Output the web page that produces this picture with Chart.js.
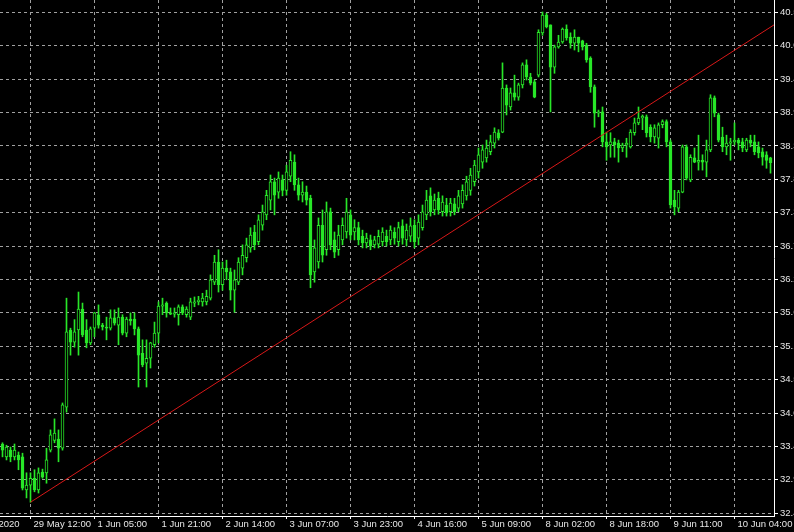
<!DOCTYPE html>
<html>
<head>
<meta charset="utf-8">
<script src="https://cdn.jsdelivr.net/npm/chart.js@4.4.0/dist/chart.umd.min.js"></script>
<style>
  html, body { margin: 0; padding: 0; background: #000; }
  canvas { display: block; }
</style>
</head>
<body>
<canvas id="chart" width="794" height="532"></canvas>
<script>
// hourly candles (one per bar, left to right)
var barOpen = [
  33.53, 33.32, 33.43, 33.32, 33.35, 33.32, 32.78, 32.86, 32.97, 32.78,
  33.07, 33.06, 33.43, 33.59, 33.61, 33.46, 34.13, 35.39, 35.19, 35.39,
  35.73, 35.39, 35.18, 35.42, 35.64, 35.47, 35.44, 35.42, 35.59, 35.47,
  35.60, 35.34, 35.57, 35.57, 35.41, 35.01, 34.85, 34.93, 35.15, 35.34,
  35.78, 35.83, 35.67, 35.65, 35.64, 35.77, 35.64, 35.60, 35.83, 35.85,
  35.85, 35.85, 35.91, 36.17, 36.50, 36.13, 36.40, 36.34, 36.04, 36.17,
  36.40, 36.57, 36.73, 36.99, 36.83, 37.10, 37.27, 37.51, 37.81, 37.64,
  37.84, 37.67, 37.90, 38.13, 37.76, 37.59, 37.64, 37.54, 36.34, 36.50,
  37.10, 36.70, 37.32, 36.86, 36.70, 36.86, 36.99, 37.27, 36.99, 37.06,
  36.92, 36.81, 36.86, 36.78, 36.79, 36.83, 36.92, 36.86, 36.99, 36.83,
  37.09, 36.86, 36.92, 37.10, 36.89, 37.06, 37.27, 37.58, 37.35, 37.54,
  37.32, 37.43, 37.32, 37.45, 37.38, 37.45, 37.58, 37.67, 37.81, 37.97,
  38.13, 38.20, 38.30, 38.44, 38.61, 38.62, 39.34, 39.03, 39.26, 39.19,
  39.39, 39.72, 39.52, 39.44, 39.55, 40.24, 40.53, 40.37, 39.68, 40.01,
  40.09, 40.30, 40.17, 40.07, 40.17, 40.11, 40.04, 39.83, 39.36, 38.93,
  38.95, 38.46, 38.41, 38.46, 38.44, 38.36, 38.41, 38.38, 38.61, 38.77,
  38.85, 38.87, 38.70, 38.54, 38.52, 38.74, 38.79, 38.46, 37.51, 37.38,
  37.64, 38.38, 37.84, 38.20, 38.13, 38.16, 38.13, 38.33, 39.18, 38.90,
  38.54, 38.38, 38.44, 38.46, 38.49, 38.46, 38.33, 38.49, 38.46, 38.38,
  38.30, 38.25, 38.20
];
var barHigh = [
  33.55, 33.51, 33.48, 33.53, 33.40, 33.38, 33.06, 33.06, 33.11, 33.14,
  33.12, 33.46, 33.76, 33.94, 33.76, 34.20, 35.91, 35.42, 35.56, 36.01,
  35.83, 35.56, 35.44, 35.68, 35.80, 35.50, 35.60, 35.72, 35.72, 35.75,
  35.64, 35.60, 35.67, 35.67, 35.44, 35.23, 35.23, 35.19, 35.52, 35.85,
  35.91, 35.85, 35.75, 35.75, 35.80, 35.80, 35.77, 35.91, 35.93, 35.94,
  35.99, 36.04, 36.29, 36.61, 36.70, 36.50, 36.53, 36.40, 36.37, 36.57,
  36.78, 36.89, 37.06, 37.10, 37.27, 37.43, 37.67, 37.92, 37.87, 37.97,
  37.92, 38.08, 38.30, 38.25, 37.87, 37.81, 37.74, 37.59, 36.86, 37.22,
  37.35, 37.48, 37.38, 36.99, 37.10, 37.22, 37.54, 37.35, 37.19, 37.15,
  37.02, 36.97, 36.94, 36.92, 37.02, 37.06, 37.02, 37.09, 37.06, 37.15,
  37.19, 37.12, 37.22, 37.19, 37.27, 37.43, 37.67, 37.71, 37.61, 37.64,
  37.58, 37.54, 37.54, 37.54, 37.67, 37.76, 37.90, 38.03, 38.16, 38.36,
  38.41, 38.49, 38.57, 38.69, 38.66, 39.75, 39.39, 39.34, 39.55, 39.42,
  39.75, 39.80, 39.58, 39.47, 40.29, 40.58, 40.56, 40.37, 40.04, 40.20,
  40.32, 40.37, 40.24, 40.29, 40.17, 40.12, 40.07, 39.85, 39.39, 38.98,
  39.03, 38.62, 38.61, 38.52, 38.49, 38.44, 38.52, 38.66, 38.85, 39.03,
  38.90, 38.90, 38.74, 38.74, 38.77, 38.82, 38.82, 38.49, 37.67, 37.67,
  38.41, 38.41, 38.25, 38.36, 38.57, 38.25, 38.49, 39.23, 39.21, 38.93,
  38.70, 38.57, 38.52, 38.77, 38.52, 38.52, 38.52, 38.57, 38.57, 38.46,
  38.36, 38.30, 38.21
];
var barLow = [
  33.32, 33.27, 33.24, 33.27, 33.11, 32.78, 32.65, 32.58, 32.75, 32.73,
  32.97, 32.89, 33.40, 33.55, 33.24, 33.43, 34.05, 34.98, 35.11, 34.98,
  35.28, 35.10, 35.15, 35.28, 35.42, 35.39, 35.23, 35.39, 35.47, 35.15,
  35.31, 35.28, 35.47, 35.31, 34.46, 34.79, 34.46, 34.77, 35.11, 35.18,
  35.64, 35.60, 35.64, 35.60, 35.47, 35.64, 35.60, 35.56, 35.77, 35.80,
  35.78, 35.80, 35.88, 36.13, 36.01, 36.04, 36.21, 35.88, 35.68, 36.13,
  36.29, 36.50, 36.66, 36.70, 36.78, 37.02, 37.19, 37.35, 37.27, 37.54,
  37.58, 37.59, 37.81, 37.67, 37.51, 37.48, 37.43, 36.08, 36.17, 36.40,
  36.50, 36.61, 36.70, 36.57, 36.61, 36.78, 36.89, 36.86, 36.86, 36.78,
  36.73, 36.73, 36.70, 36.73, 36.73, 36.76, 36.76, 36.78, 36.79, 36.76,
  36.79, 36.76, 36.83, 36.73, 36.78, 37.02, 37.19, 37.25, 37.27, 37.28,
  37.25, 37.25, 37.25, 37.27, 37.32, 37.38, 37.51, 37.59, 37.74, 37.87,
  38.03, 38.13, 38.25, 38.36, 38.49, 38.61, 38.90, 38.98, 39.14, 39.14,
  39.34, 39.47, 39.39, 39.18, 39.52, 40.20, 40.32, 38.95, 39.58, 39.99,
  40.07, 40.12, 39.99, 39.96, 39.93, 39.96, 39.76, 39.27, 38.70, 38.87,
  38.38, 38.16, 38.21, 38.21, 38.13, 38.30, 38.21, 38.36, 38.57, 38.74,
  38.66, 38.54, 38.46, 38.44, 38.36, 38.69, 38.38, 37.38, 37.27, 37.32,
  37.63, 37.84, 37.81, 38.12, 38.00, 38.00, 37.89, 38.30, 38.87, 38.46,
  38.30, 38.25, 38.16, 38.41, 38.33, 38.30, 38.30, 38.38, 38.25, 38.20,
  38.08, 38.03, 37.95
];
var barClose = [
  33.43, 33.48, 33.32, 33.43, 33.27, 32.81, 32.86, 32.97, 32.78, 33.06,
  32.99, 33.27, 33.68, 33.71, 33.46, 34.17, 35.36, 35.19, 35.36, 35.73,
  35.31, 35.18, 35.41, 35.67, 35.47, 35.44, 35.42, 35.59, 35.50, 35.60,
  35.34, 35.57, 35.54, 35.41, 34.98, 34.82, 34.93, 35.18, 35.34, 35.78,
  35.80, 35.67, 35.65, 35.67, 35.77, 35.67, 35.73, 35.85, 35.85, 35.88,
  35.91, 35.94, 36.21, 36.50, 36.13, 36.40, 36.34, 36.04, 36.21, 36.50,
  36.61, 36.78, 36.94, 36.78, 37.19, 37.32, 37.59, 37.81, 37.59, 37.87,
  37.67, 37.97, 38.16, 37.76, 37.59, 37.64, 37.51, 36.29, 36.73, 37.10,
  36.61, 37.32, 36.78, 36.66, 36.94, 37.10, 37.32, 36.94, 37.06, 36.86,
  36.81, 36.89, 36.76, 36.86, 36.92, 36.99, 36.83, 37.02, 36.89, 37.06,
  36.89, 37.02, 37.09, 36.83, 37.15, 37.32, 37.51, 37.32, 37.51, 37.35,
  37.48, 37.30, 37.46, 37.32, 37.58, 37.67, 37.81, 37.92, 38.08, 38.25,
  38.33, 38.36, 38.46, 38.62, 38.52, 39.34, 39.06, 39.26, 39.19, 39.39,
  39.72, 39.52, 39.42, 39.19, 40.25, 40.53, 40.34, 39.68, 40.01, 40.09,
  40.30, 40.16, 40.07, 40.17, 40.07, 40.01, 39.80, 39.36, 38.93, 38.95,
  38.46, 38.38, 38.46, 38.41, 38.36, 38.41, 38.44, 38.62, 38.77, 38.85,
  38.88, 38.61, 38.54, 38.69, 38.74, 38.79, 38.46, 37.43, 37.40, 37.64,
  38.38, 37.87, 38.21, 38.13, 38.16, 38.13, 38.33, 39.18, 38.93, 38.49,
  38.38, 38.44, 38.46, 38.49, 38.44, 38.36, 38.49, 38.44, 38.30, 38.28,
  38.21, 38.16, 38.12
];

// time axis: bar index of each label
var xTickIndex = [-10.2, 7, 23, 39, 55, 71, 87, 103, 119, 135, 151, 167, 183];
var xTickLabels = ["28 May 2020", "29 May 12:00", "1 Jun 05:00", "1 Jun 21:00", "2 Jun 14:00",
  "3 Jun 07:00", "3 Jun 23:00", "4 Jun 16:00", "5 Jun 09:00", "8 Jun 02:00",
  "8 Jun 18:00", "9 Jun 11:00", "10 Jun 04:00"];

// price axis
var yTicks = [32.400, 32.945, 33.490, 34.035, 34.580, 35.125, 35.670, 36.215,
  36.760, 37.305, 37.850, 38.395, 38.940, 39.485, 40.030, 40.575];
var yMin = 32.355, yMax = 40.776;
var xMin = -0.625, xMax = 192.875;

// red trend line, from the 29 May low
var trendX = [7, 192.875];
var trendY = [32.58, 40.37];

var GREEN = 'rgb(40,230,40)';
var GRID = '#a0a0a0';
var TEXT = '#e6e6e6';
var tickFont = { family: 'Liberation Sans', size: 9.5 };

var bodies = barClose.map(function(c, i) { return { x: i, y: [barOpen[i], c] }; });
var wicks = barHigh.map(function(h, i) { return { x: i, y: [barLow[i], h] }; });
var trend = trendX.map(function(x, i) { return { x: x, y: trendY[i] }; });

function isBull(ctx) {
  var i = ctx.dataIndex;
  return barClose[i] >= barOpen[i];
}

new Chart(document.getElementById('chart'), {
  type: 'bar',
  data: {
    datasets: [
      {
        type: 'line',
        data: trend,
        borderColor: '#d81818',
        borderWidth: 1,
        pointRadius: 0,
        order: 1
      },
      {
        data: bodies,
        barThickness: 3,
        minBarLength: 1,
        borderWidth: 1,
        borderSkipped: false,
        borderColor: GREEN,
        backgroundColor: function(ctx) { return isBull(ctx) ? '#000' : GREEN; },
        grouped: false,
        order: 2
      },
      {
        data: wicks,
        barThickness: 1,
        borderWidth: 0,
        backgroundColor: GREEN,
        grouped: false,
        order: 3
      }
    ]
  },
  options: {
    responsive: false,
    animation: false,
    devicePixelRatio: 1,
    events: [],
    layout: { padding: 0 },
    plugins: { legend: { display: false }, tooltip: { enabled: false } },
    scales: {
      x: {
        type: 'linear',
        offset: false,
        min: xMin,
        max: xMax,
        afterBuildTicks: function(axis) {
          axis.ticks = xTickIndex.map(function(v) { return { value: v }; });
        },
        afterFit: function(axis) {
          axis.height = 16;
          axis.paddingLeft = 0;
          axis.paddingRight = 0;
        },
        ticks: {
          color: TEXT,
          font: tickFont,
          align: 'start',
          labelOffset: 3,
          padding: 0,
          maxRotation: 0,
          autoSkip: false,
          callback: function(v, i) { return xTickLabels[i]; }
        },
        grid: {
          offset: false,
          color: function(ctx) { return ctx.index === 0 ? 'rgba(0,0,0,0)' : GRID; },
          tickColor: function(ctx) { return ctx.index === 0 ? 'rgba(0,0,0,0)' : '#fff'; },
          tickLength: 3
        },
        border: { color: '#fff', dash: [3, 3] }
      },
      y: {
        type: 'linear',
        position: 'right',
        min: yMin,
        max: yMax,
        afterBuildTicks: function(axis) {
          axis.ticks = yTicks.map(function(v) { return { value: v }; });
        },
        afterFit: function(axis) {
          axis.width = 20;
          axis.paddingTop = 0;
          axis.paddingBottom = 0;
        },
        ticks: {
          color: TEXT,
          font: tickFont,
          padding: 2,
          callback: function(v) { return v.toFixed(3); }
        },
        grid: { color: GRID, tickColor: '#fff', tickLength: 4 },
        border: { color: '#fff', dash: [3, 3] }
      }
    }
  }
});
</script>
</body>
</html>
